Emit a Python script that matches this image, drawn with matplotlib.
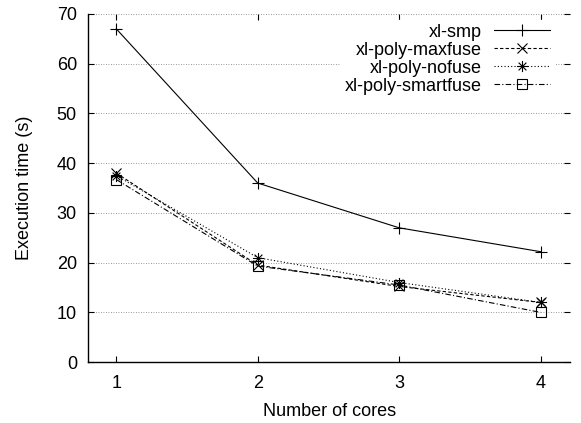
import matplotlib
matplotlib.use("Agg")
import matplotlib.pyplot as plt
from matplotlib.path import Path

cores = [1, 2, 3, 4]
smp = [67.0, 36.0, 27.0, 22.2]
maxfuse = [38.0, 19.5, 15.2, 12.0]
nofuse = [37.5, 21.0, 16.0, 12.0]
smartfuse = [36.7, 19.3, 15.5, 10.0]

plt.rcParams['font.family'] = ['Liberation Sans', 'DejaVu Sans']
plt.rcParams['font.size'] = 13

# gnuplot style star: plus and cross on top of each other
star = Path([(-1, 0), (1, 0), (0, -1), (0, 1), (-0.7, -0.7), (0.7, 0.7), (-0.7, 0.7), (0.7, -0.7)],
            [Path.MOVETO, Path.LINETO] * 4)

fig = plt.figure(figsize=(5.81, 4.23), dpi=100)
ax = fig.add_axes([0.1515, 0.144, 0.83, 0.823])

lw = 0.8
ax.plot(cores, smp, color='black', lw=lw, ls='-', marker='+', ms=8, mew=lw, label='xl-smp')
ax.plot(cores, maxfuse, color='black', lw=lw, ls=(0, (3, 2)), marker='x', ms=7, mew=lw, label='xl-poly-maxfuse')
ax.plot(cores, nofuse, color='black', lw=lw, ls=(0, (1, 2)), marker=star, ms=8, mew=lw, label='xl-poly-nofuse')
ax.plot(cores, smartfuse, color='black', lw=lw, ls=(0, (5, 2, 1, 2)), marker='s', ms=7, mew=lw,
        mfc='none', label='xl-poly-smartfuse')

ax.set_xlim(0.8, 4.21)
ax.set_ylim(0, 70)
ax.set_xticks(cores)
ax.set_yticks(range(0, 71, 10))
ax.grid(axis='y', ls=(0, (1, 2)), color='#777777', lw=0.6)
ax.set_axisbelow(True)

ax.spines['top'].set_visible(False)
ax.spines['right'].set_visible(False)
ax.spines['left'].set_linewidth(1.0)
ax.spines['bottom'].set_linewidth(1.0)
ax.tick_params(direction='in', top=True, right=True, length=4, width=0.8, pad=8)
ax.tick_params(axis='x', pad=9.5)

ax.set_xlabel('Number of cores', labelpad=8)
ax.set_ylabel('Execution time (s)', labelpad=17)

leg = ax.legend(loc='upper right', bbox_to_anchor=(0.985, 1.008), markerfirst=False,
                handlelength=3.1, handletextpad=0.7, labelspacing=0.05, borderpad=0.2,
                frameon=True, fancybox=False, edgecolor='white', framealpha=1.0)

fig.savefig('out.png', dpi=100)
